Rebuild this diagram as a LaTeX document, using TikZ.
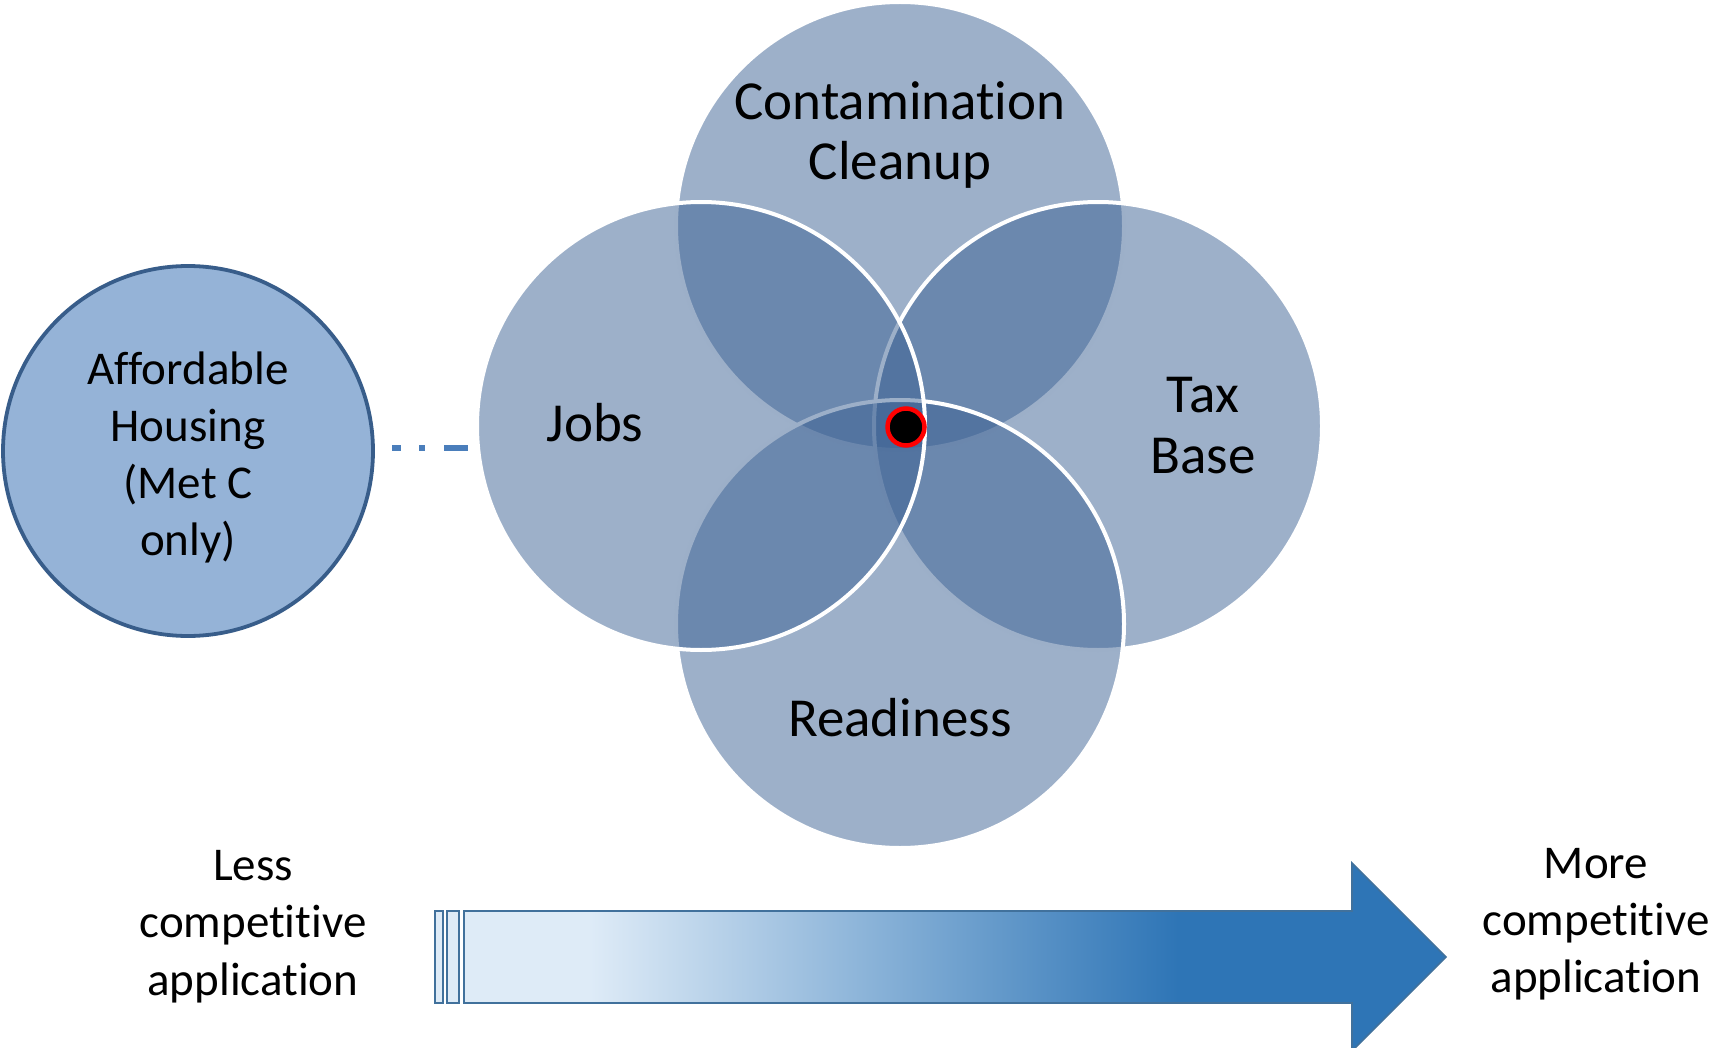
\documentclass[tikz,border=0pt]{standalone}
\usepackage{fontspec}
\setmainfont[RawFeature={-liga}]{Carlito}
\definecolor{vennc}{HTML}{3B6193}
\definecolor{affill}{HTML}{95B3D7}
\definecolor{afline}{HTML}{385D8A}
\definecolor{dashc}{HTML}{4A7EBB}
\definecolor{arlight}{HTML}{DEEBF7}
\definecolor{ardark}{HTML}{2E75B6}
\definecolor{arline}{HTML}{41719C}
\begin{document}
\begin{tikzpicture}[x=0.5pt,y=-0.5pt,
  venn/.style={circle, minimum size=224pt, inner sep=0pt, outer sep=0pt,
    fill=vennc, fill opacity=0.5, draw=white, line width=2pt},
  bigtxt/.style={font=\fontsize{27.5pt}{30.5pt}\selectfont, anchor=base, inner sep=0pt},
  smalltxt/.style={font=\fontsize{23.5pt}{28.5pt}\selectfont, anchor=base, inner sep=0pt},
  dashline/.style={dashc, line width=2.8pt,
    dash pattern=on 4.5pt off 9pt on 3pt off 9.5pt on 12pt off 30pt,
    shorten <=9.5pt, shorten >=4.5pt},
  stripbox/.style={draw=arline, fill=arlight, line width=0.8pt}
]
\useasboundingbox (0,0) rectangle (1712,1048);

% Venn circles (drawing order matters)
\node[venn] (top) at (900,226) {};
\node[venn] (right) at (1098,426) {};
\node[venn] (bottom) at (900,624) {};
\node[venn] (left) at (701,426) {};

% center dot
\node[circle, minimum size=18.5pt, inner sep=0pt, fill=black, draw=red, line width=2.25pt] (dot) at (906,427) {};

% affordable housing circle
\node[circle, minimum size=185pt, inner sep=0pt, outer sep=0pt, fill=affill, draw=afline, line width=1.9pt] (aff) at (188,451) {};
\coordinate (dashend) at (aff.east -| left.west);
\draw[dashline] ([yshift=1.5pt]aff.east) -- ([yshift=1.5pt]dashend);

% labels
\node[bigtxt] (c1) at (900,120) {Contamination};
\node[bigtxt] (c2) at (900,180) {Cleanup};
\node[bigtxt] (jobsl) at (595,441) {Jobs};
\node[bigtxt] (tax1) at (1203,412) {Tax};
\node[bigtxt] (tax2) at (1203,473) {Base};
\node[bigtxt] (ready) at (900,736) {Readiness};

\node[smalltxt] (af1) at (188,384) {Affordable};
\node[smalltxt] (af2) at (188,441) {Housing};
\node[smalltxt] (af3) at (188,498) {(Met C};
\node[smalltxt] (af4) at (188,555) {only)};

\node[smalltxt] (l1) at (253,880) {Less};
\node[smalltxt] (l2) at (253,937) {competitive};
\node[smalltxt] (l3) at (253,995) {application};

\node[smalltxt] (m1) at (1596,878) {More};
\node[smalltxt] (m2) at (1596,935) {competitive};
\node[smalltxt] (m3) at (1596,992) {application};

% gradient arrow
\begin{scope}
  \clip (464,911) -- (1352,911) -- (1352,863) -- (1446,957) -- (1352,1051) -- (1352,1003) -- (464,1003) -- cycle;
  \shade[left color=arlight, right color=ardark] (590,860) rectangle (1178,1055);
  \fill[arlight] (460,860) rectangle (591,1055);
  \fill[ardark] (1177,860) rectangle (1450,1055);
\end{scope}
\draw[arline, line width=0.8pt, line join=miter] (464,911) -- (1352,911) -- (1352,863) -- (1446,957) -- (1352,1051) -- (1352,1003) -- (464,1003) -- cycle;
\draw[stripbox] (435,911) rectangle (443,1003);
\draw[stripbox] (447,911) rectangle (459,1003);
\end{tikzpicture}
\end{document}
